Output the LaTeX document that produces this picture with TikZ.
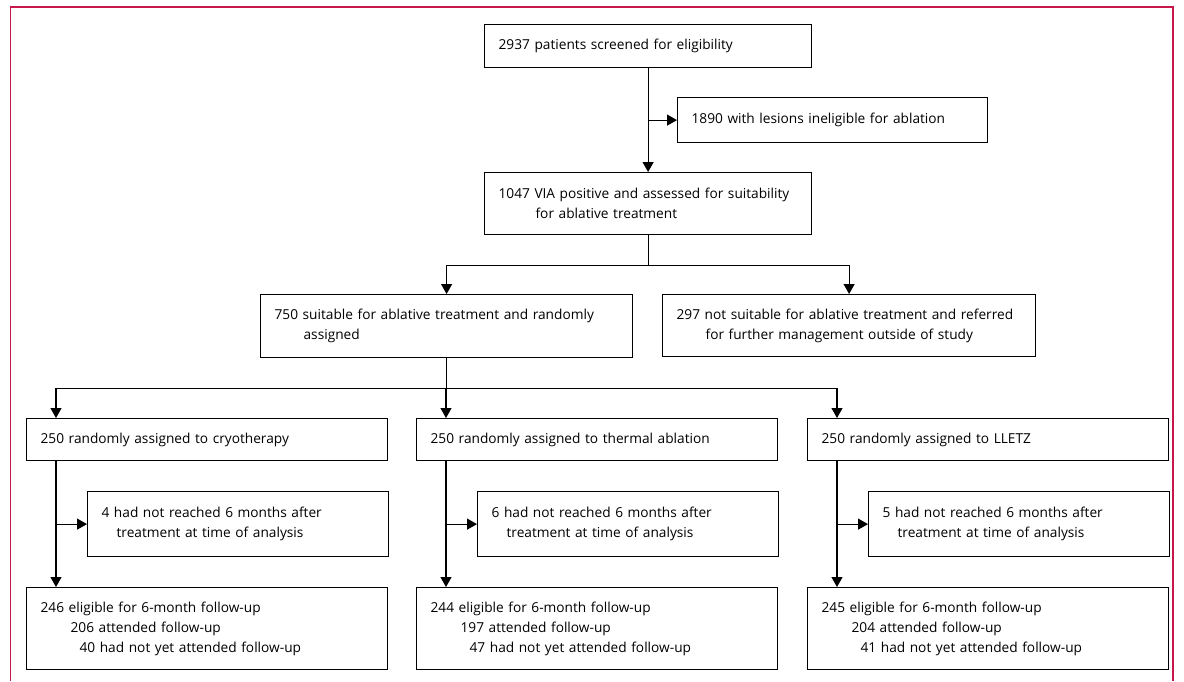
\documentclass[tikz,border=0pt]{standalone}
\usepackage{fontspec}
\setmainfont[WordSpace=0.6]{Open Sans}
\usetikzlibrary{arrows.meta,calc}
\definecolor{framered}{HTML}{C8174A}

\begin{document}
\begin{tikzpicture}[x=1pt, y=-1pt, >={Triangle[length=10pt,width=11pt]},
    box/.style={draw, line width=1.2pt, anchor=north west, align=left,
        inner xsep=14pt, inner ysep=0pt, font=\fontsize{13.7}{20}\selectfont},
    link/.style={line width=1.2pt}]
    \useasboundingbox (0,0) rectangle (1184,681);

    % 外框 (底部开口)
    \draw[framered, line width=1.5pt] (10.3,681) -- (10.3,7) -- (1173,7) -- (1173,681);

    % 筛查与评估
    \node[box, text width=299pt, minimum height=43pt] (scr) at (484,24)
        {2937 patients screened for eligibility};
    \node[box, text width=282pt, minimum height=45pt] (inel) at (677,97)
        {1890 with lesions ineligible for ablation};
    \node[box, text width=299pt, minimum height=62pt] (via) at (484,172)
        {\mbox{1047 VIA positive and assessed for suitability}\\\hspace*{37pt}for ablative treatment};

    % 是否适合消融
    \node[box, text width=344pt, minimum height=63pt] (suit) at (260,294)
        {750 suitable for ablative treatment and randomly\\\hspace*{29pt}assigned};
    \node[box, text width=345pt, minimum height=62pt] (nsuit) at (662,294)
        {\mbox{297 not suitable for ablative treatment and referred}\\\hspace*{29pt}for further management outside of study};

    % 三个随机分组
    \node[box, text width=333pt, minimum height=42pt] (cryo) at (26,418)
        {250 randomly assigned to cryotherapy};
    \node[box, text width=333pt, minimum height=42pt] (therm) at (416,418)
        {250 randomly assigned to thermal ablation};
    \node[box, text width=333pt, minimum height=42pt] (lletz) at (807,418)
        {250 randomly assigned to LLETZ};

    % 未满 6 个月
    \node[box, text width=273pt, minimum height=65pt] (cryoex) at (87,491)
        {4 had not reached 6 months after\\\hspace*{15pt}treatment at time of analysis};
    \node[box, text width=273pt, minimum height=65pt] (thermex) at (477,491)
        {6 had not reached 6 months after\\\hspace*{15pt}treatment at time of analysis};
    \node[box, text width=273pt, minimum height=65pt] (lletzex) at (868,491)
        {5 had not reached 6 months after\\\hspace*{15pt}treatment at time of analysis};

    % 6 个月随访
    \node[box, text width=333pt, minimum height=82pt] (cryofu) at (26,587)
        {246 eligible for 6-month follow-up\\\hspace*{30pt}206 attended follow-up\\\hspace*{39pt}40 had not yet attended follow-up};
    \node[box, text width=333pt, minimum height=82pt] (thermfu) at (416,587)
        {244 eligible for 6-month follow-up\\\hspace*{30pt}197 attended follow-up\\\hspace*{39pt}47 had not yet attended follow-up};
    \node[box, text width=333pt, minimum height=82pt] (lletzfu) at (807,587)
        {245 eligible for 6-month follow-up\\\hspace*{30pt}204 attended follow-up\\\hspace*{39pt}41 had not yet attended follow-up};

    % 连线
    \draw[link, ->] (scr.south) -- (via.north);
    \draw[link, ->] (scr.south |- inel.west) -- (inel.west);

    \path (via.south) ++(0,30) coordinate (bus1);
    \draw[link] (via.south) -- (bus1);
    \draw[link, ->] (bus1) -| (suit.north);
    \draw[link, ->] (bus1) -| (nsuit.north);

    \path (suit.south) ++(0,30) coordinate (bus2);
    \draw[link] (suit.south) -- (bus2);
    \foreach \g in {cryo, therm, lletz} {
        \draw[link, ->] (bus2) -| ([xshift=30pt]\g.north west);
        \draw[link, ->] ([xshift=30pt]\g.south west) -- ([xshift=30pt]\g fu.north west);
        \draw[link, ->] ([xshift=30pt]\g.south west |- \g ex.west) -- (\g ex.west);
    }
\end{tikzpicture}
\end{document}
